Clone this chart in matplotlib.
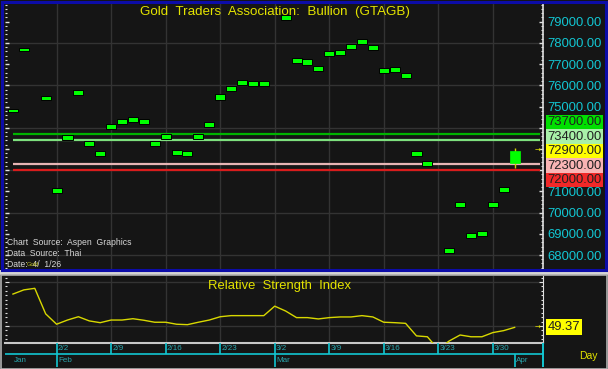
import numpy as np
import matplotlib
matplotlib.use('Agg')
import matplotlib.pyplot as plt
import matplotlib.transforms as mtransforms
from matplotlib.patches import Rectangle
from matplotlib.ticker import MultipleLocator, FuncFormatter

# === daily data, 1/27 .. 4/1 (nan = bar not visible on the chart) ===
closes = [74800, 77700, np.nan, 75400, 71050, 73550, 75650, 73250, 72800, 74050,
          74300, 74400, 74300, 73250, 73600, 72850, 72800, 73600, 74150, 75450,
          75850, 76150, 76100, 76100, np.nan, 79200, 77150, 77100, 76800, 77480,
          77550, 77850, 78050, 77800, 76700, 76750, 76450, 72800, 72300, np.nan,
          68200, 70400, 68900, 69000, 70400, 71100, 72900]
last_open, last_high, last_low = 72350, 73050, 72100
thin_days = [0, 1, 3]

rsi = [64.5, 66.4, 67.1, 55.5, 50.8, 52.7, 54.2, 52.3, 51.5, 52.7,
       52.7, 53.3, 52.6, 51.7, 51.7, 50.8, 50.6, 51.7, 52.7, 54.2,
       54.7, 54.7, 54.7, 54.7, 59.0, 56.8, 53.8, 53.8, 53.2, 53.8,
       54.1, 54.1, 54.7, 54.1, 51.7, 51.5, 51.2, 45.5, 45.1, 39.3,
       43.2, 45.9, 45.1, 45.1, 47.0, 47.9, 49.37]

levels = [73700, 73400, 72300, 72000]
level_line_colors = ['#00b400', '#7ee07e', '#e8b4b4', '#d81c1c']
level_box_colors = ['#00e000', '#a8f0a8', '#f8b4b4', '#f02828']

week_idx = [4, 9, 14, 19, 24, 29, 34, 39, 44]
week_labels = ['2/2', '2/9', '2/16', '2/23', '3/2', '3/9', '3/16', '3/23', '3/30']
month_idx = [0, 4, 24, 46]
month_labels = ['Jan', 'Feb', 'Mar', 'Apr']

# === style ===
plt.rcParams['font.family'] = ['Liberation Sans', 'DejaVu Sans']
BG = '#151515'
GRID = '#333333'
CYAN = '#12c6d2'
TEAL = '#2aa6ae'
YEL = '#e4e400'
BODY, THIN = 240, 160
LAB = 9.4  # size of the value labels on the right
STEP = 684  # height of one value box, price units

W, H = 608, 369
def box(x0, y0, x1, y1):
    return [x0 / W, 1 - y1 / H, (x1 - x0) / W, (y1 - y0) / H]

fig = plt.figure(figsize=(W / 100, H / 100), dpi=100, facecolor=BG)
XL = (-0.73, 48.6)
x = np.arange(len(closes))

# value boxes are stacked around the last price; tick labels under them are hidden
lab_vals = [levels[0], levels[1], closes[-1], levels[2], levels[3]]
lab_cols = [level_box_colors[0], level_box_colors[1], '#ffff00', level_box_colors[2], level_box_colors[3]]
box_top = closes[-1] + 2.5 * STEP
box_bot = closes[-1] - 2.5 * STEP

def price_fmt(v, p):
    if box_bot < v < box_top:
        return ''
    return f'{v:.2f}'

# ---------------- price panel ----------------
ax = fig.add_axes(box(5, 4, 543, 270))
ax.set_facecolor(BG)
ax.set_xlim(*XL)
ax.set_ylim(67293, 79835)
for s in ['top', 'bottom', 'left']:
    ax.spines[s].set_visible(False)
ax.spines['right'].set_color('#e0e0e0')
ax.spines['right'].set_linewidth(1.2)
ax.set_xticks([])
ax.yaxis.set_major_locator(MultipleLocator(1000))
ax.yaxis.set_minor_locator(MultipleLocator(200))
ax.yaxis.set_major_formatter(FuncFormatter(price_fmt))
ax.tick_params(axis='y', which='both', left=True, right=True, labelleft=False,
               labelright=True, direction='in', colors='#e0e0e0', labelcolor=CYAN,
               labelsize=LAB, pad=3)
ax.tick_params(axis='y', which='major', length=3, width=1)
ax.tick_params(axis='y', which='minor', length=1.6, width=0.8)

for g in np.arange(68000, 80000, 2000):
    ax.axhline(g, color=GRID, lw=1, zorder=1)
for w in week_idx:
    ax.axvline(w, color=GRID, lw=1, zorder=1)

for lv, lc in zip(levels, level_line_colors):
    ax.hlines(lv, 0, 48.3, color=lc, lw=1.6, zorder=3)

c = np.array(closes[:-1], dtype=float)
hts = np.where(np.isin(x[:-1], thin_days), THIN, BODY)
ax.bar(x[:-1], hts, bottom=c - hts / 2, width=0.92, color='#00ff00',
       edgecolor='#000000', linewidth=0.7, zorder=4)
ax.vlines(x[-1], last_low, last_high, color='#d0d000', lw=1, zorder=4)
ax.bar(x[-1], closes[-1] - last_open, bottom=last_open, width=0.92, color='#00ff00',
       edgecolor='#00ff00', linewidth=0.5, zorder=5)

ax.text(0.502, 0.97, 'Gold  Traders  Association:  Bullion  (GTAGB)', transform=ax.transAxes,
        ha='center', va='center', color=YEL, fontsize=9.6, zorder=6)
src = ['Chart  Source:  Aspen  Graphics', 'Data  Source:  Thai', 'Date:  4/  1/26']
for k, t in enumerate(src):
    ax.text(0.004, 0.105 - k * 0.043, t, transform=ax.transAxes, ha='left', va='center',
            color='#d8d8d8', fontsize=6.2, zorder=6)
ax.text(0.040, 0.019, 'Gold', transform=ax.transAxes, ha='left', va='center',
        color='#b8b820', fontsize=4.2, zorder=7)

trans = mtransforms.blended_transform_factory(ax.transAxes, ax.transData)
for k, (v, col) in enumerate(zip(lab_vals, lab_cols)):
    yc = closes[-1] + (2 - k) * STEP
    ax.add_patch(Rectangle((1.0065, yc - STEP / 2), 0.1041, STEP, transform=trans,
                           facecolor=col, edgecolor='none', clip_on=False, zorder=8))
    ax.text(1.0087, yc, f'{v:.2f}', transform=trans, ha='left', va='center',
            color='#202020', fontsize=LAB, clip_on=False, zorder=9)
ax.text(0.989, closes[-1], '→', transform=trans, ha='center', va='center',
        color=YEL, fontsize=5, family='DejaVu Sans', zorder=9)

# ---------------- RSI panel ----------------
ar = fig.add_axes(box(5, 276, 543, 343))
ar.set_facecolor(BG)
ar.set_xlim(*XL)
ar.set_ylim(42.27, 72.7)
for s in ['top', 'left']:
    ar.spines[s].set_visible(False)
ar.spines['right'].set_color('#e0e0e0')
ar.spines['bottom'].set_color('#c8c8c8')
ar.spines['bottom'].set_linewidth(1.5)
ar.set_xticks([])
ar.set_yticks([50, 70])
ar.yaxis.set_minor_locator(MultipleLocator(2))
ar.tick_params(axis='y', which='both', left=True, right=True, labelleft=False,
               labelright=False, direction='in', colors='#e0e0e0')
ar.tick_params(axis='y', which='major', length=3)
ar.tick_params(axis='y', which='minor', length=1.6, width=0.8)
for g in [50, 70]:
    ar.axhline(g, color=GRID, lw=1, zorder=1)
for w in week_idx:
    ar.axvline(w, color=GRID, lw=1, zorder=1)
ar.plot(x, rsi, color='#d8d800', lw=1, zorder=3)
ar.text(0.51, 0.85, 'Relative  Strength  Index', transform=ar.transAxes, ha='center',
        va='center', color=YEL, fontsize=9.4)
rt = mtransforms.blended_transform_factory(ar.transAxes, ar.transData)
ar.add_patch(Rectangle((1.0056, rsi[-1] - 3.6), 0.067, 7.2, transform=rt,
                       facecolor='#ffff00', edgecolor='none', clip_on=False, zorder=8))
ar.text(1.0085, rsi[-1], f'{rsi[-1]:.2f}', transform=rt, ha='left', va='center',
        color='#202020', fontsize=LAB, clip_on=False, zorder=9)
ar.text(0.989, rsi[-1], '→', transform=rt, ha='center', va='center',
        color=YEL, fontsize=5, family='DejaVu Sans', zorder=9)

# ---------------- date strip ----------------
ad = fig.add_axes(box(5, 343, 544, 367))
ad.set_facecolor('#0c0c0c')
ad.set_xlim(XL[0], XL[1] + 0.09)
ad.set_ylim(0, 1)
ad.axis('off')
ad.axhline(0.54, color=CYAN, lw=1.2)
ad.vlines(week_idx, 0.54, 1, color=CYAN, lw=1.2)
ad.vlines(month_idx[1:], 0, 0.54, color=CYAN, lw=1.2)
ad.axvline(XL[1], color=CYAN, lw=1.4)
for w, t in zip(week_idx, week_labels):
    ad.text(w + 0.12, 0.76, t, ha='left', va='center', color=TEAL, fontsize=5.8)
for m, t in zip(month_idx, month_labels):
    ad.text(m + 0.12, 0.26, t, ha='left', va='center', color=TEAL, fontsize=5.8)
fig.text(588 / W, 1 - 356 / H, 'Day', ha='center', va='center', color=YEL, fontsize=7.5)

# ---------------- frames ----------------
fig.patches.append(Rectangle((0, 1 - 275 / H), 1, 5 / H, transform=fig.transFigure,
                             facecolor='#d4d4d4', edgecolor='none', zorder=0))
fig.patches.append(Rectangle((1.5 / W, 1 - 270 / H), 604.5 / W, 268.5 / H, transform=fig.transFigure,
                             fill=False, edgecolor='#0c0ca8', lw=2.2, zorder=10))
fig.patches.append(Rectangle((0.5 / W, 0.5 / H), 606.5 / W, 94 / H, transform=fig.transFigure,
                             fill=False, edgecolor='#b0b0b0', lw=1.2, zorder=10))

fig.savefig('out.png', dpi=100, facecolor=fig.get_facecolor())
